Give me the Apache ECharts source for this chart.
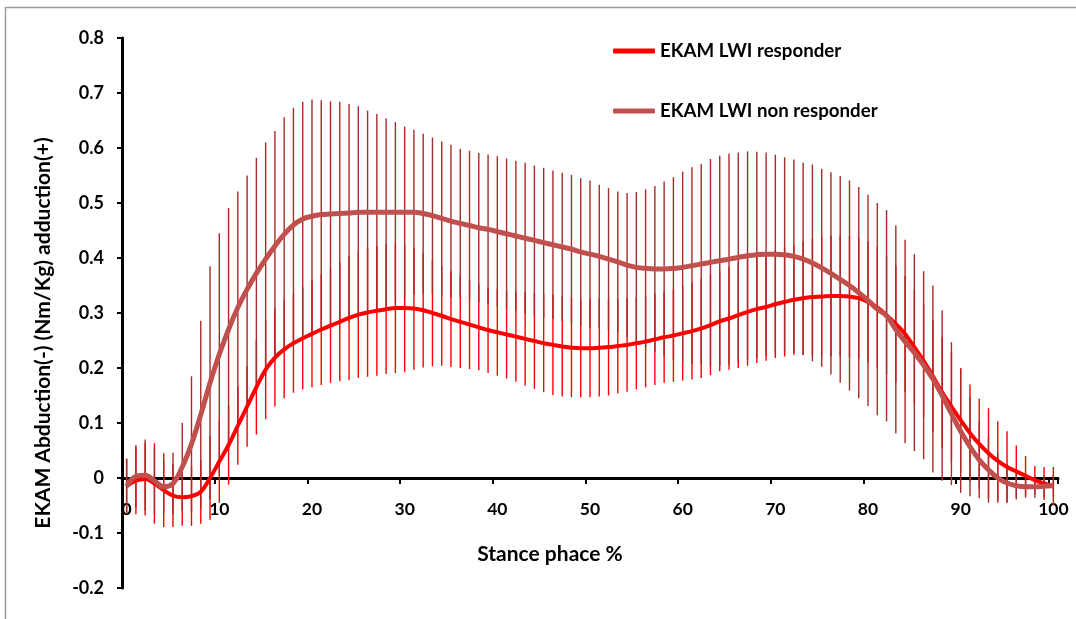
<!DOCTYPE html>
<html>
<head>
<meta charset="utf-8">
<script src="https://cdn.jsdelivr.net/npm/echarts@6/dist/echarts.min.js"></script>
<style>
  html, body { margin: 0; padding: 0; background: #fff; }
  #chart { width: 1076px; height: 619px; }
</style>
</head>
<body>
<div id="chart"></div>
<script>
// Stance phase, 0..100 %
const stancePhase = Array.from({ length: 101 }, (_, i) => String(i));

// EKAM LWI responder: mean and SD (Nm/Kg)
const responderMean = [
  -0.015,-0.005,-0.002,-0.01,-0.022,-0.032,-0.035,-0.033,-0.025,0.0,
  0.03,0.06,0.095,0.13,0.165,0.197,0.219,0.234,0.245,0.254,
  0.262,0.27,0.277,0.284,0.291,0.297,0.301,0.304,0.307,0.309,
  0.309,0.308,0.305,0.3,0.295,0.289,0.284,0.279,0.274,0.269,
  0.265,0.261,0.257,0.253,0.249,0.245,0.242,0.239,0.237,0.236,
  0.236,0.237,0.238,0.24,0.242,0.245,0.248,0.252,0.256,0.259,
  0.263,0.267,0.272,0.278,0.285,0.29,0.296,0.302,0.307,0.311,
  0.316,0.32,0.324,0.327,0.329,0.33,0.331,0.331,0.33,0.327,
  0.32,0.31,0.296,0.28,0.262,0.238,0.213,0.185,0.156,0.13,
  0.105,0.082,0.062,0.045,0.031,0.02,0.012,0.004,-0.004,-0.01,
  -0.015
];
const responderSD = [
  0.05,0.061,0.066,0.073,0.067,0.057,0.052,0.054,0.058,0.076,
  0.075,0.072,0.071,0.073,0.086,0.09,0.089,0.089,0.09,0.093,
  0.097,0.101,0.104,0.108,0.113,0.115,0.117,0.118,0.118,0.118,
  0.116,0.111,0.104,0.097,0.091,0.087,0.084,0.081,0.078,0.078,
  0.079,0.08,0.082,0.085,0.087,0.089,0.091,0.091,0.09,0.089,
  0.089,0.089,0.088,0.086,0.085,0.084,0.083,0.083,0.083,0.084,
  0.086,0.088,0.09,0.091,0.091,0.093,0.096,0.098,0.098,0.098,
  0.098,0.099,0.1,0.103,0.106,0.108,0.11,0.11,0.11,0.11,
  0.11,0.11,0.108,0.106,0.105,0.104,0.103,0.102,0.101,0.1,
  0.095,0.088,0.082,0.082,0.072,0.065,0.047,0.036,0.026,0.03,
  0.035
];

// EKAM LWI non responder: mean and SD (Nm/Kg)
const nonResponderMean = [
  -0.015,0.003,0.005,-0.005,-0.016,-0.01,0.02,0.062,0.115,0.173,
  0.225,0.27,0.31,0.343,0.372,0.398,0.422,0.443,0.46,0.471,
  0.476,0.479,0.48,0.481,0.482,0.483,0.483,0.483,0.483,0.483,
  0.483,0.483,0.481,0.477,0.472,0.467,0.463,0.459,0.455,0.452,
  0.448,0.444,0.44,0.436,0.432,0.428,0.424,0.42,0.416,0.411,
  0.407,0.403,0.398,0.393,0.387,0.383,0.381,0.38,0.38,0.381,
  0.383,0.386,0.389,0.392,0.395,0.398,0.401,0.404,0.406,0.407,
  0.407,0.406,0.403,0.398,0.391,0.382,0.372,0.361,0.35,0.337,
  0.323,0.307,0.295,0.27,0.248,0.228,0.205,0.18,0.15,0.117,
  0.085,0.057,0.033,0.015,0.0,-0.009,-0.014,-0.016,-0.016,-0.015,
  -0.014
];
const nonResponderSD = [
  0.05,0.057,0.065,0.06,0.048,0.056,0.08,0.123,0.171,0.212,
  0.22,0.221,0.211,0.207,0.21,0.212,0.209,0.213,0.213,0.213,
  0.212,0.208,0.205,0.203,0.198,0.193,0.185,0.179,0.171,0.164,
  0.156,0.15,0.145,0.142,0.14,0.139,0.135,0.136,0.136,0.136,
  0.137,0.137,0.137,0.137,0.136,0.136,0.135,0.135,0.135,0.134,
  0.134,0.13,0.129,0.128,0.131,0.137,0.144,0.151,0.159,0.166,
  0.174,0.179,0.182,0.188,0.191,0.192,0.191,0.19,0.187,0.185,
  0.181,0.177,0.176,0.175,0.179,0.18,0.184,0.188,0.191,0.192,
  0.192,0.193,0.192,0.189,0.185,0.179,0.171,0.17,0.155,0.13,
  0.112,0.09,0.07,0.06,0.045,0.035,0.025,0.02,0.02,0.02,
  0.02
];

const FONT = 'Lato, "Open Sans", sans-serif';
const RED = '#FF0000';
const BROWN = '#C0504D';
const BROWN_BAR = '#A52C2A';

// [index, mean - sd, mean + sd]
function errorRows(mean, sd) {
  return mean.map((m, i) => [i, m - sd[i], m + sd[i]]);
}

function errorBarSeries(rows, color, z) {
  return {
    type: 'custom',
    z: z,
    silent: true,
    data: rows,
    encode: { x: 0, y: [1, 2] },
    renderItem: function (params, api) {
      const top = api.coord([api.value(0), api.value(2)]);
      const bottom = api.coord([api.value(0), api.value(1)]);
      return {
        type: 'line',
        shape: { x1: top[0], y1: top[1], x2: bottom[0], y2: bottom[1] },
        style: { stroke: color, lineWidth: 1.4 }
      };
    }
  };
}

const chart = echarts.init(document.getElementById('chart'), null, { renderer: 'canvas' });

const GRID_TOP = 38;
const GRID_BOTTOM = 31;
const Y_MIN = -0.2;
const Y_MAX = 0.8;
// the category axis sits on the zero line, together with its labels and title
const gridHeight = 619 - GRID_TOP - GRID_BOTTOM;
const zeroOffset = -gridHeight * (0 - Y_MIN) / (Y_MAX - Y_MIN);

chart.setOption({
  animation: false,
  backgroundColor: '#fff',
  grid: { left: 122, right: 18, top: GRID_TOP, bottom: GRID_BOTTOM, containLabel: false, outerBoundsMode: 'none' },
  graphic: [{
    type: 'rect',
    shape: { x: 5.5, y: 7.5, width: 1200, height: 800 },
    style: { fill: 'none', stroke: '#9c9c9c', lineWidth: 1.5 },
    silent: true,
    z: -10
  }],
  legend: {
    orient: 'vertical',
    left: 608,
    top: 34,
    icon: 'roundRect',
    itemWidth: 42,
    itemHeight: 5,
    itemGap: 36,
    textStyle: { fontFamily: FONT, fontWeight: 'bold', fontSize: 18.7, color: '#000', lineHeight: 24 },
    data: ['EKAM LWI responder', 'EKAM LWI non responder']
  },
  xAxis: {
    type: 'category',
    data: stancePhase,
    boundaryGap: true,
    position: 'bottom',
    offset: zeroOffset,
    name: 'Stance phace %',
    nameLocation: 'middle',
    nameGap: 66,
    nameTextStyle: { fontFamily: FONT, fontWeight: 'bold', fontSize: 21, color: '#000', padding: [0, 80, 0, 0] },
    axisLine: { onZero: false, lineStyle: { color: '#000', width: 3 } },
    axisTick: { show: true, interval: 9, length: 6, inside: false, lineStyle: { color: '#000', width: 2 } },
    axisLabel: { interval: 9, margin: 22, fontFamily: FONT, fontWeight: 'bold', fontSize: 17.5, color: '#000' },
    splitLine: { show: false }
  },
  yAxis: {
    type: 'value',
    min: Y_MIN,
    max: Y_MAX,
    interval: 0.1,
    name: 'EKAM Abduction(-) (Nm/Kg) adduction(+)',
    nameLocation: 'middle',
    nameGap: 68,
    nameTextStyle: { fontFamily: FONT, fontWeight: 'bold', fontSize: 21, color: '#000', padding: [0, 40, 0, 0] },
    axisLine: { show: true, onZero: false, lineStyle: { color: '#000', width: 3 } },
    axisTick: { show: true, length: 5, inside: false, lineStyle: { color: '#000', width: 2 } },
    axisLabel: {
      margin: 18, fontFamily: FONT, fontWeight: 'bold', fontSize: 18, color: '#000',
      formatter: v => String(Math.round(v * 10) / 10)
    },
    splitLine: { show: false }
  },
  series: [
    errorBarSeries(errorRows(responderMean, responderSD), RED, 1),
    errorBarSeries(errorRows(nonResponderMean, nonResponderSD), BROWN_BAR, 2),
    {
      name: 'EKAM LWI responder',
      type: 'line',
      data: responderMean,
      smooth: 0.4,
      symbol: 'none',
      z: 4,
      color: RED,
      lineStyle: { color: RED, width: 4 }
    },
    {
      name: 'EKAM LWI non responder',
      type: 'line',
      data: nonResponderMean,
      smooth: 0.4,
      symbol: 'none',
      z: 5,
      color: BROWN,
      lineStyle: { color: BROWN, width: 5 }
    }
  ]
});
</script>
</body>
</html>
